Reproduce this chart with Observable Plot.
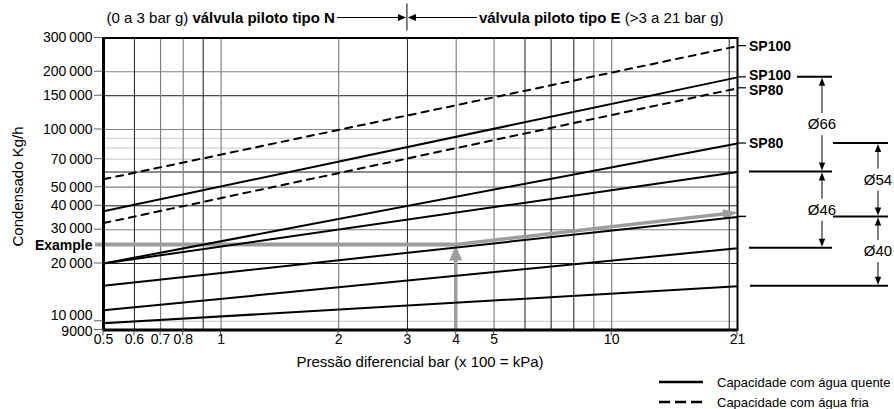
<!DOCTYPE html>
<html><head><meta charset="utf-8">
<script src="https://cdn.jsdelivr.net/npm/d3@7"></script>
<script src="https://cdn.jsdelivr.net/npm/@observablehq/plot@0.6"></script>
<style>
body{margin:0;background:#fff;font-family:"Liberation Sans",Arial,Helvetica,sans-serif;color:#000;}
#wrap{position:relative;width:894px;height:409px;overflow:hidden;background:#fff;}
#wrap svg{display:block;}
.lg{position:absolute;left:658px;height:18px;display:flex;align-items:center;font-size:13px;white-space:nowrap;}
.lg span{margin-left:13px;}
</style></head><body><div id="wrap"></div>
<script>
// ---------- data ----------
const pressureEnds = [0.5, 21];
const hotSeries = ["SP100", "SP80", "L3", "L4", "L5", "L6"];
const hotStart = [37500, 20000, 20000, 15300, 11400, 9760];
const hotEnd = [187000, 84500, 60000, 35000, 24000, 15200];
const coldSeries = ["SP100", "SP80"];
const coldStart = [55000, 32500];
const coldEnd = [272000, 164000];
const xTicks = [0.5, 0.6, 0.7, 0.8, 1, 2, 3, 4, 5, 10, 21];
const yTicks = [300000, 200000, 150000, 100000, 70000, 50000, 40000, 30000, 20000, 10000, 9000];
const xGridDark = [0.6, 0.9, 3, 6, 7, 8, 20];
const xGridMid = [0.7, 0.8, 1, 2, 4, 5, 9, 10];
const yGridDark = [150000, 60000, 40000, 20000];
const yGridMid = [200000, 100000, 50000, 30000];
const yGridLight = [90000, 80000, 70000, 10000];
const examplePressure = 4;
const exampleFlow = 25000;
const exampleFlowAt21 = 36700;
const valveSplit = 3;
const rightLabelText = ["SP100", "SP100", "SP80", "SP80"];
const rightLabelValue = [coldEnd[0], hotEnd[0], coldEnd[1], hotEnd[1]];
const dimLabels = ["Ø66", "Ø46", "Ø54", "Ø40"];
const dimFrom = [hotEnd[0], hotEnd[2], hotEnd[1], hotEnd[3]];
const dimTo = [hotEnd[2], hotEnd[4], hotEnd[3], hotEnd[5]];
const dimColumn = [0, 0, 1, 1];

// ---------- tables ----------
const hotRows = hotSeries.flatMap((s, i) => [{s, p: pressureEnds[0], v: hotStart[i]}, {s, p: pressureEnds[1], v: hotEnd[i]}]);
const coldRows = coldSeries.flatMap((s, i) => [{s, p: pressureEnds[0], v: coldStart[i]}, {s, p: pressureEnds[1], v: coldEnd[i]}]);
const fmtY = d => d >= 10000 ? d3.format(",")(d).replace(/,/g, "\u2009") : String(d);
const yTickShift = d => d === 10000 ? -5.5 : d === 9000 ? 1.5 : d === 30000 ? -1 : 0;
const rightLabelShift = [0, -1.5, 2.5, 0];

const W = 894, H = 366, mL = 103, mR = 157, mT = 37.5, mB = 36.5;
const FONT = "Liberation Sans, Arial, Helvetica, sans-serif";

const yLabelMarks = [...new Set(yTicks.map(yTickShift))].map(s =>
  Plot.text(yTicks.filter(d => yTickShift(d) === s), {y: d => d, text: fmtY, frameAnchor: "left", dx: -11, dy: s, textAnchor: "end", fill: "#000"})
);

const chart = Plot.plot({
  width: W, height: H, marginLeft: mL, marginRight: mR, marginTop: mT, marginBottom: mB,
  style: {fontFamily: FONT, fontSize: "14px", background: "#fff", color: "#000", overflow: "visible"},
  x: {type: "log", domain: pressureEnds, axis: null},
  y: {type: "log", domain: [yTicks[yTicks.length - 1], yTicks[0]], axis: null},
  marks: [
    Plot.ruleY(yGridLight, {stroke: "#c6c6c6", strokeWidth: 1}),
    Plot.ruleY(yGridMid, {stroke: "#808080", strokeWidth: 1.2}),
    Plot.ruleY(yGridDark, {stroke: "#1a1a1a", strokeWidth: 1}),
    Plot.ruleX(xGridMid, {stroke: "#808080", strokeWidth: 1.2}),
    Plot.ruleX(xGridDark, {stroke: "#1a1a1a", strokeWidth: 1}),
    Plot.line(coldRows, {x: "p", y: "v", z: "s", stroke: "#000", strokeWidth: 2, strokeDasharray: "7,6"}),
    Plot.line(hotRows, {x: "p", y: "v", z: "s", stroke: "#000", strokeWidth: 2}),
    Plot.frame({stroke: "#000", strokeWidth: 2}),
    Plot.ruleX([pressureEnds[0]], {stroke: "#000", strokeWidth: 3}),
    Plot.ruleY([yTicks[yTicks.length - 1]], {stroke: "#000", strokeWidth: 3}),
    Plot.text(xTicks, {x: d => d, text: d => String(d), frameAnchor: "bottom", dy: 14, fill: "#000"}),
    ...yLabelMarks,
    Plot.text([exampleFlow], {y: d => d, text: () => "Example", frameAnchor: "left", dx: -11, dy: 1, textAnchor: "end", fontWeight: "bold", fill: "#000"})
  ]
});

document.getElementById("wrap").appendChild(chart);

// ---------- annotations through Plot's scales ----------
const svgEl = chart.tagName.toLowerCase() === "svg" ? chart : chart.querySelector("svg");
const svg = d3.select(svgEl);
const xs = chart.scale("x"), ys = chart.scale("y");
const X = xs.apply ? v => xs.apply(v) : d3.scaleLog(xs.domain, xs.range);
const Y = ys.apply ? v => ys.apply(v) : d3.scaleLog(ys.domain, ys.range);
const fl = X(pressureEnds[0]), fr = X(pressureEnds[1]), fb = Y(yTicks[yTicks.length - 1]), ft = Y(yTicks[0]);

function head(g, tx, ty, fx, fy, len, hw, color) {
  const dx = tx - fx, dy = ty - fy, L = Math.hypot(dx, dy), ux = dx / L, uy = dy / L;
  const bx = tx - ux * len, by = ty - uy * len;
  g.append("polygon")
    .attr("points", [[tx, ty], [bx - uy * hw, by + ux * hw], [bx + uy * hw, by - ux * hw]].map(p => p.join(",")).join(" "))
    .attr("fill", color);
}
function seg(g, x1, y1, x2, y2, w, color) {
  g.append("line").attr("x1", x1).attr("y1", y1).attr("x2", x2).attr("y2", y2)
    .attr("stroke", color).attr("stroke-width", w);
}

// example arrows (beneath the data lines)
const firstLine = svgEl.querySelector("g[aria-label='line']");
const gEx = firstLine ? d3.select(svgEl.insertBefore(document.createElementNS("http://www.w3.org/2000/svg", "g"), firstLine)) : svg.append("g");
const GRAY = "#9d9d9d";
const ex = X(examplePressure), ey = Y(exampleFlow), ey21 = Y(exampleFlowAt21);
seg(gEx, fl - 8, ey, ex + 2, ey, 4, GRAY);
seg(gEx, ex, fb, ex, ey + 12, 3.5, GRAY);
head(gEx, ex, ey + 1, ex, fb, 15, 6.5, GRAY);
{
  const dx = fr - ex, dy = ey21 - ey, L = Math.hypot(dx, dy);
  seg(gEx, ex, ey, fr - 12 * dx / L, ey21 - 12 * dy / L, 3.5, GRAY);
  head(gEx, fr + 1, ey21, ex, ey, 15, 5, GRAY);
}

const g = svg.append("g").attr("font-family", FONT).attr("fill", "#000").attr("text-anchor", "start");

// axis ticks
xTicks.forEach(d => seg(g, X(d), fb, X(d), fb + 6, 1, "#444"));
yTicks.forEach(d => seg(g, fl - 9, Y(d), fl, Y(d), 1, "#666"));

// axis titles
g.append("text").attr("transform", `translate(${fl - 85},${(ft + fb) / 2 + 3}) rotate(-90)`)
  .attr("text-anchor", "middle").attr("dy", "0.35em").attr("font-size", 15).text("Condensado Kg/h");
g.append("text").attr("x", (fl + fr) / 2).attr("y", fb + 32).attr("dy", "0.35em")
  .attr("text-anchor", "middle").attr("font-size", 15).text("Pressão diferencial bar (x 100 = kPa)");

// valve type annotation
const xv = X(valveSplit), ty = ft - 20;
seg(g, xv, ft - 34, xv, ft - 7, 1, "#000");
seg(g, xv - 70, ty, xv - 7, ty, 1, "#000");
head(g, xv - 1, ty, xv - 70, ty, 8, 3.5, "#000");
seg(g, xv + 70, ty, xv + 7, ty, 1, "#000");
head(g, xv + 1, ty, xv + 70, ty, 8, 3.5, "#000");
const tN = g.append("text").attr("x", xv - 72).attr("y", ty).attr("dy", "0.35em").attr("text-anchor", "end").attr("font-size", 15);
tN.append("tspan").text("(0 a 3 bar g) ");
tN.append("tspan").attr("font-weight", "bold").text("válvula piloto tipo N");
const tE = g.append("text").attr("x", xv + 72).attr("y", ty).attr("dy", "0.35em").attr("text-anchor", "start").attr("font-size", 15);
tE.append("tspan").attr("font-weight", "bold").text("válvula piloto tipo E");
tE.append("tspan").text(" (>3 a 21 bar g)");

// right-hand labels
rightLabelText.forEach((t, i) => {
  const yy = Y(rightLabelValue[i]);
  seg(g, fr + 1, yy, fr + 9, yy, 1.2, "#000");
  g.append("text").attr("x", fr + 12).attr("y", yy + rightLabelShift[i]).attr("dy", "0.35em").attr("text-anchor", "start")
    .attr("font-size", 14).attr("font-weight", "bold").text(t);
});
seg(g, fr + 1, Y(hotEnd[3]), fr + 9, Y(hotEnd[3]), 1.5, "#000");

// dimension lines
seg(g, fr + 60, Y(hotEnd[0]), fr + 95, Y(hotEnd[0]), 2, "#000");
seg(g, fr + 12, Y(hotEnd[2]), fr + 95, Y(hotEnd[2]), 2, "#000");
seg(g, fr + 12, Y(hotEnd[4]), fr + 95, Y(hotEnd[4]), 2, "#000");
seg(g, fr + 13, Y(hotEnd[5]), fr + 151, Y(hotEnd[5]), 2, "#000");
seg(g, fr + 96, Y(hotEnd[1]), fr + 151, Y(hotEnd[1]), 2, "#000");
seg(g, fr + 96, Y(hotEnd[3]), fr + 151, Y(hotEnd[3]), 2, "#000");
const colX = [fr + 85, fr + 141];
dimLabels.forEach((lab, i) => {
  const cx = colX[dimColumn[i]], y1 = Y(dimFrom[i]) + 1, y2 = Y(dimTo[i]) - 1, ly = (y1 + y2) / 2;
  seg(g, cx, y1 + 6, cx, ly - 11, 1, "#000");
  seg(g, cx, ly + 11, cx, y2 - 6, 1, "#000");
  head(g, cx, y1, cx, ly, 8, 3.2, "#000");
  head(g, cx, y2, cx, ly, 8, 3.2, "#000");
  g.append("text").attr("x", cx).attr("y", ly).attr("dy", "0.35em").attr("text-anchor", "middle").attr("font-size", 15).text(lab);
});

// legend (below the chart)
const wrap = document.getElementById("wrap");
const legendItems = [
  {label: "Capacidade com água quente", dash: null, top: 373},
  {label: "Capacidade com água fria", dash: "11,5", top: 393}
];
legendItems.forEach(it => {
  const div = document.createElement("div");
  div.className = "lg";
  div.style.top = it.top + "px";
  div.innerHTML = `<svg width="46" height="18"><line x1="1" x2="45" y1="9" y2="9" stroke="#000" stroke-width="2.5"${it.dash ? ` stroke-dasharray="${it.dash}"` : ""}/></svg><span></span>`;
  div.querySelector("span").textContent = it.label;
  wrap.appendChild(div);
});
</script></body></html>
